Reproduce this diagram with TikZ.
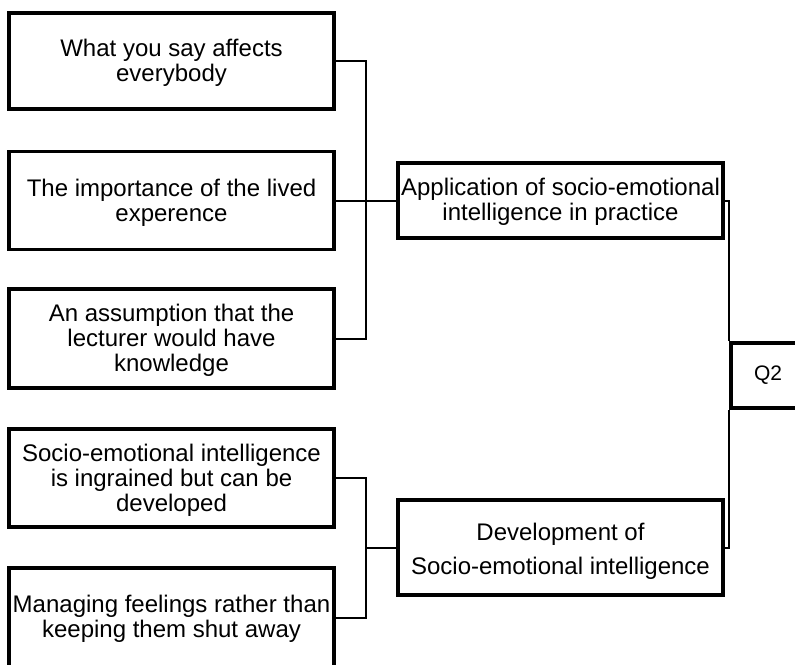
\documentclass[tikz,border=0pt]{standalone}
\usepackage{fontspec}
\setmainfont{Liberation Sans}
\newcommand\mytstrut[1]{\rule{0pt}{#1}}
\begin{document}
\begin{tikzpicture}[x=1pt,y=-1pt,
  box/.style={draw=black, line width=3.2pt, rectangle, inner sep=0pt, align=center,
    minimum width=325pt, font=\fontsize{24}{25}\selectfont},
  conn/.style={draw=black, line width=2pt}]
\useasboundingbox (0,0) rectangle (795,664);
\clip (0,0) rectangle (795,664);
\node[box, minimum height=96pt] (b1) at (171.5,61) {\mytstrut{21.5pt}What you say affects\\everybody};
\node[box, minimum height=98pt] (b2) at (171.5,200.5) {\mytstrut{21.5pt}The importance of the lived\\experence};
\node[box, minimum height=99pt] (b3) at (171.5,338.5) {\mytstrut{21.5pt}An assumption that the\\lecturer would have\\knowledge};
\node[box, minimum height=98pt] (b4) at (171.5,478) {\mytstrut{21.5pt}Socio-emotional intelligence\\is ingrained but can be\\developed};
\node[box, minimum height=100pt] (b5) at (171.5,618) {\mytstrut{19.5pt}Managing feelings rather than\\keeping them shut away};
\node[box, minimum height=75pt] (app) at (560.5,200.5) {\mytstrut{19.5pt}Application of socio-emotional\\intelligence in practice};
\node[box, minimum height=95pt, font=\fontsize{24}{34}\selectfont] (dev) at (560.5,547.5) {\mytstrut{25.5pt}Development of\\Socio-emotional intelligence};
\node[box, minimum width=74pt, minimum height=65pt, font=\fontsize{21}{24}\selectfont] (q2) at (768,375.5) {Q2};
\coordinate (j1) at (366,200.5);
\coordinate (j2) at (366,547.5);
\draw[conn] (b1.east) -| (j1) |- (b3.east);
\draw[conn] (b2.east) -- (app.west);
\draw[conn] (b4.east) -| (j2) |- (b5.east);
\draw[conn] (j2) -- (dev.west);
\draw[conn] (app.east) -| (q2.north west);
\draw[conn] (dev.east) -| (q2.south west);
\end{tikzpicture}
\end{document}
